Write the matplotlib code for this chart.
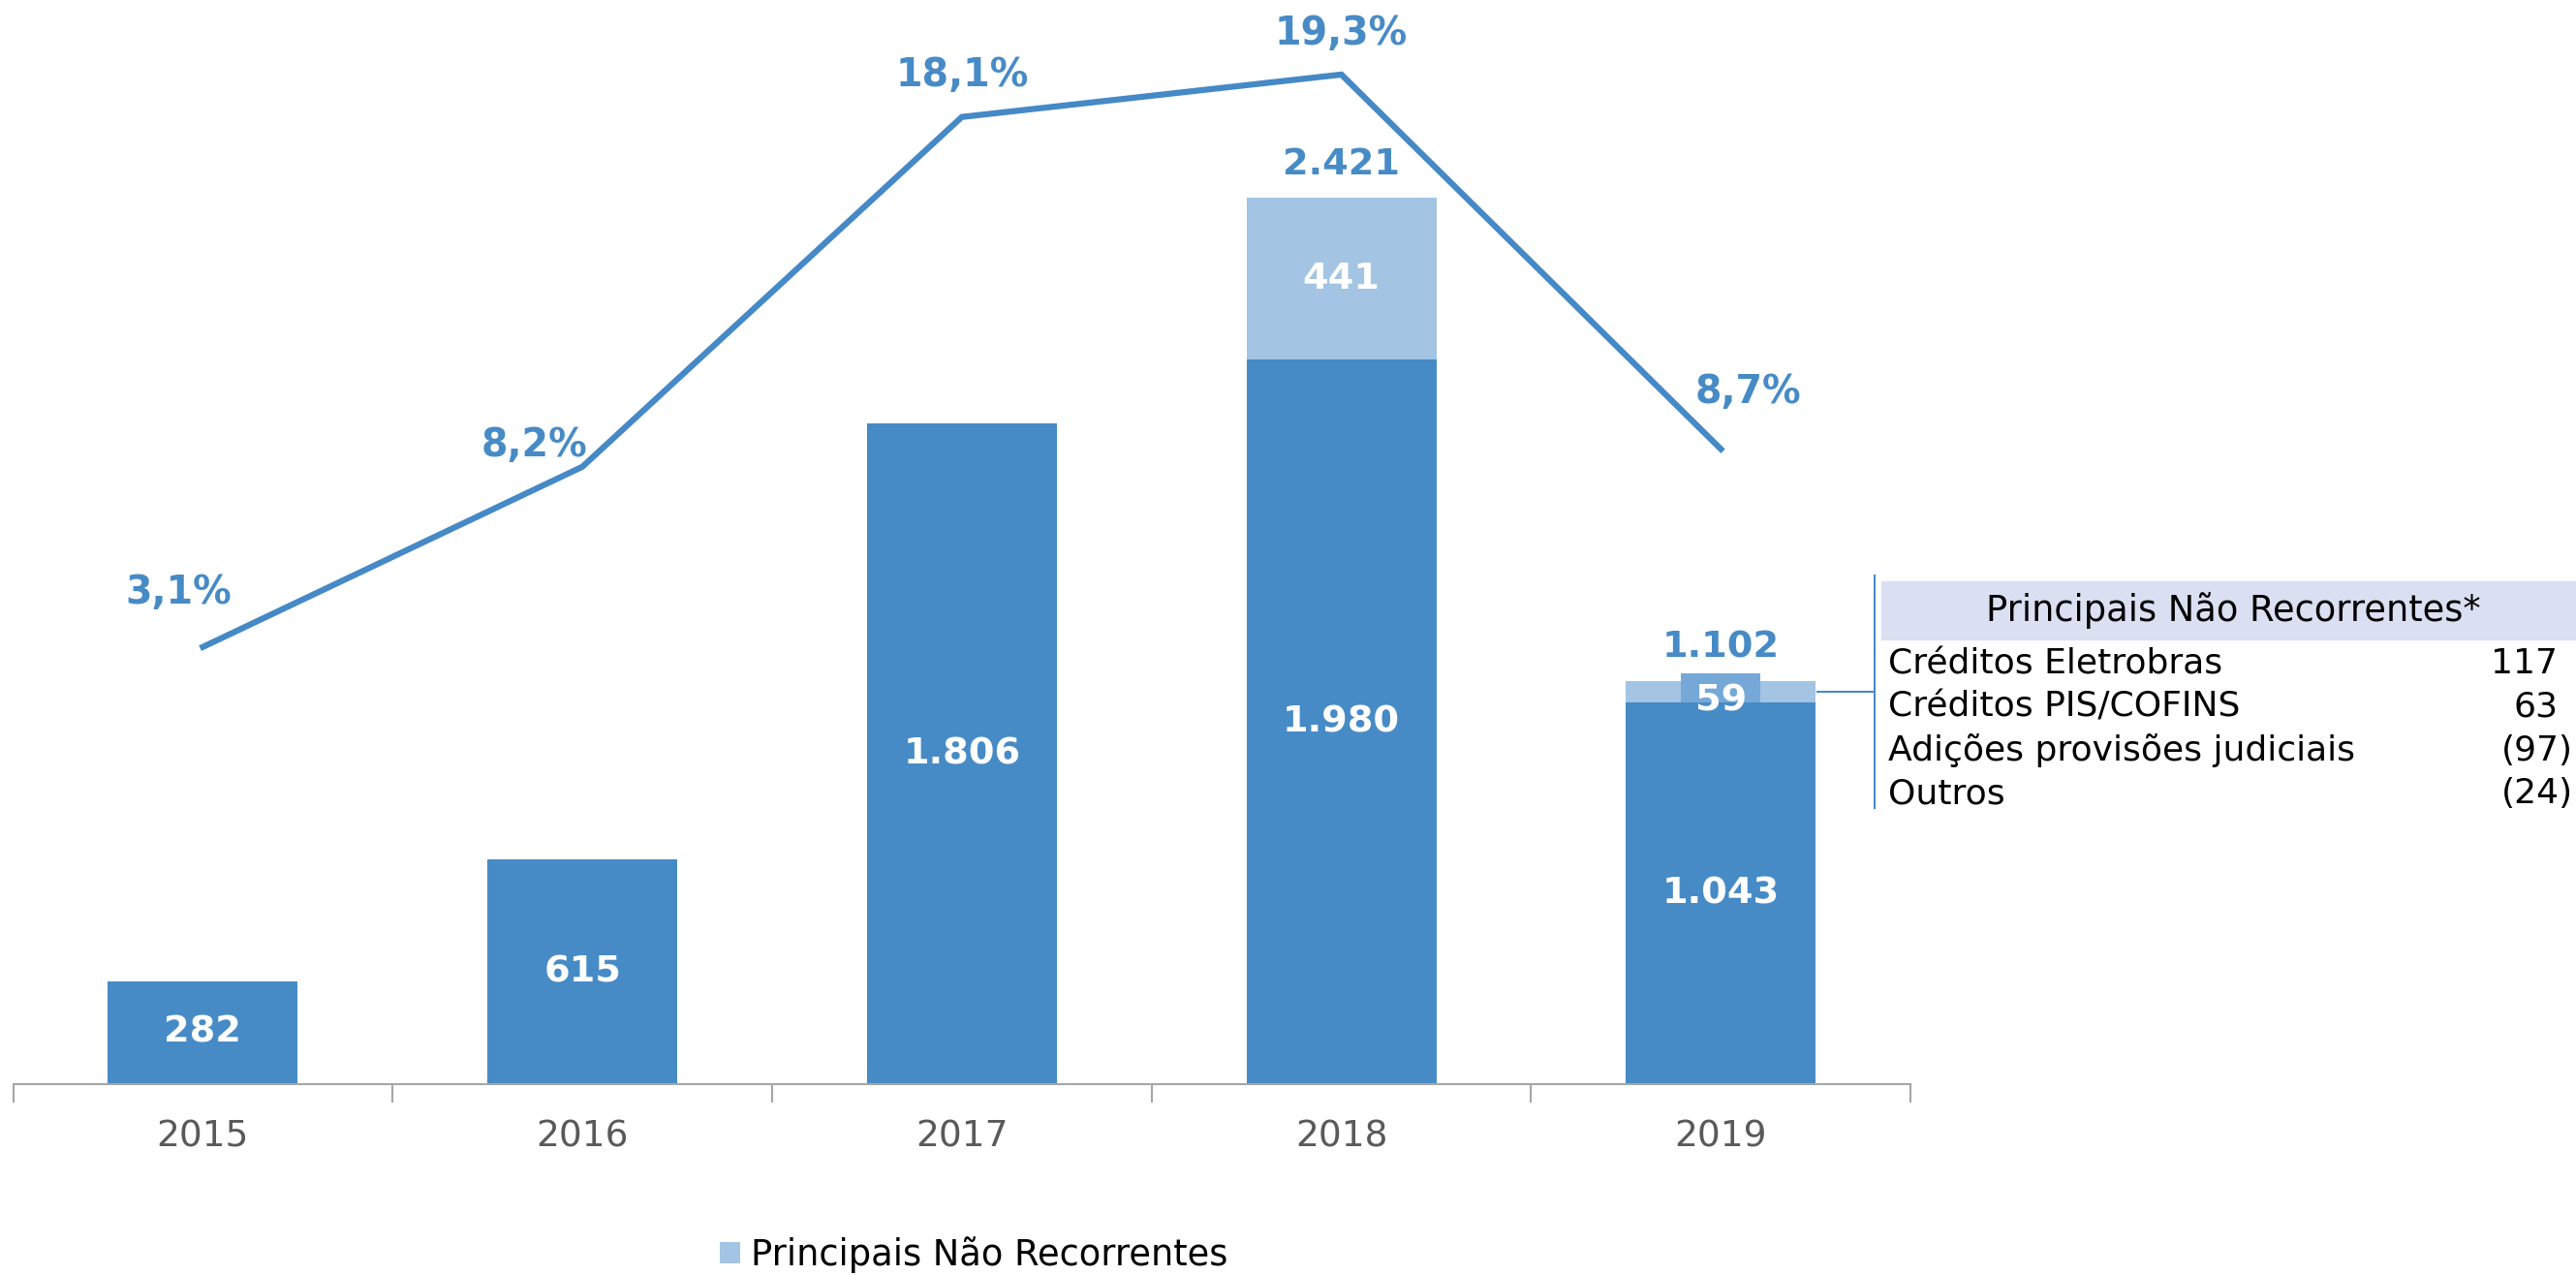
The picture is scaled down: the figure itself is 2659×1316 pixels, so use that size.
import matplotlib
matplotlib.use("Agg")
from matplotlib import pyplot as plt
import numpy as np

# dados do gráfico
anos = ['2015', '2016', '2017', '2018', '2019']
recorrente = [282, 615, 1806, 1980, 1043]
nao_recorrente = [0, 0, 0, 441, 59]
destaque_2019 = 79  # faixa sobreposta na barra de 2019
margem = [3.1, 8.2, 18.1, 19.3, 8.7]

tabela_itens = ['Créditos Eletrobras', 'Créditos PIS/COFINS', 'Adições provisões judiciais', 'Outros']
tabela_valores = [117, 63, -97, -24]

AZUL = '#478BC6'
AZUL_CLARO = '#A3C4E3'
AZUL_MEIO = '#75A8D6'


def fmt_num(v):
    return f"{v:,}".replace(",", ".")


def fmt_pct(v):
    return f"{v:.1f}%".replace(".", ",")


plt.rcParams['font.family'] = ['DejaVu Sans']

fig = plt.figure(figsize=(26.59, 13.16), dpi=100)
ax = fig.add_axes([0.0051, 0.1495, 0.7366, 0.8505])
x = np.arange(len(anos))
largura = 0.5

ax.bar(x, recorrente, width=largura, color=AZUL, zorder=2)
ax.bar(x, nao_recorrente, width=largura, bottom=recorrente, color=AZUL_CLARO, zorder=2,
       label='Principais Não Recorrentes')
# faixa mais estreita sobre 2019
ax.bar(x[-1], destaque_2019, width=0.21, bottom=recorrente[-1], color=AZUL_MEIO, zorder=2)

# rótulos dentro das barras
for i in range(len(anos)):
    ax.text(x[i], recorrente[i] / 2, fmt_num(recorrente[i]), ha='center', va='center',
            color='white', fontsize=27.5, fontweight='bold', zorder=4)
    if nao_recorrente[i] > 0:
        dy = 0 if nao_recorrente[i] > 200 else -25
        ax.text(x[i], recorrente[i] + nao_recorrente[i] / 2 + dy, fmt_num(nao_recorrente[i]),
                ha='center', va='center', color='white', fontsize=27.5, fontweight='bold', zorder=4)
        total = recorrente[i] + nao_recorrente[i]
        ax.annotate(fmt_num(total), (x[i], total), xytext=(0, 12), textcoords='offset points',
                    ha='center', va='bottom', color=AZUL, fontsize=27.5, fontweight='bold')

ax.set_xlim(-0.5, 4.5)
ax.set_ylim(0, 2962)
ax.set_yticks([])
for s in ['top', 'right', 'left']:
    ax.spines[s].set_visible(False)
ax.spines['bottom'].set_color('#A6A6A6')
ax.spines['bottom'].set_linewidth(1.5)
ax.set_xticks(x)
ax.set_xticklabels(anos, fontsize=27, color='#595959')
ax.tick_params(axis='x', which='major', length=0, pad=26)
ax.set_xticks(np.arange(-0.5, 5, 1), minor=True)
ax.tick_params(axis='x', which='minor', length=14, width=1.5, color='#A6A6A6')

# linha de margem
ax2 = ax.twinx()
ax2.plot(x, margem, color='#4589C6', linewidth=4.5, solid_joinstyle='miter', zorder=3)
ax2.set_ylim(-9.28, 21.41)
ax2.axis('off')
offsets = [(-18, 40), (-36, 16), (0, 31), (0, 30), (20, 42)]
for i, v in enumerate(margem):
    ax2.annotate(fmt_pct(v), (x[i], v), xytext=offsets[i], textcoords='offset points',
                 ha='center', va='center', color=AZUL, fontsize=28.5, fontweight='bold')

# legenda
fig.legend(*ax.get_legend_handles_labels(), loc='center', bbox_to_anchor=(0.378, 0.016),
           frameon=False, fontsize=26.5, handlelength=0.55, handleheight=0.55, handletextpad=0.3)

# tabela de não recorrentes
fig.patches.append(plt.Rectangle((0.7302, 0.4987), 0.2698, 0.0451, transform=fig.transFigure,
                                 color='#DAE0F2', zorder=0))
fig.text(0.867, 0.5212, 'Principais Não Recorrentes*', ha='center', va='center', fontsize=26.5)
fig.add_artist(plt.Line2D([0.7277, 0.7277], [0.366, 0.549], transform=fig.transFigure,
                          color='#4A8AC7', linewidth=1.5))
fig.add_artist(plt.Line2D([0.7054, 0.7277], [0.4575, 0.4575], transform=fig.transFigure,
                          color='#4A8AC7', linewidth=1.5))
linhas_y = [0.4794, 0.4459, 0.4111, 0.3776]
for nome, val, yy in zip(tabela_itens, tabela_valores, linhas_y):
    fig.text(0.7328, yy, nome, ha='left', va='center', fontsize=26)
    if val < 0:
        fig.text(0.9987, yy, f"({abs(val)})", ha='right', va='center', fontsize=26)
    else:
        fig.text(0.993, yy, str(val), ha='right', va='center', fontsize=26)

fig.savefig('out.png', dpi=100)
